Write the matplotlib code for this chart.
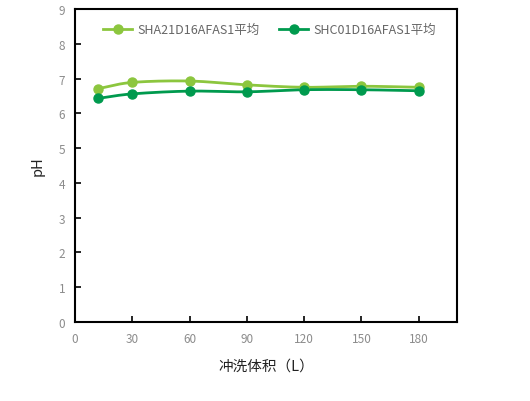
import numpy as np
import matplotlib
matplotlib.use("Agg")
import matplotlib.pyplot as plt

plt.rcParams['font.family'] = ['Noto Sans CJK SC', 'DejaVu Sans']

volume = [12, 30, 60, 90, 120, 150, 180]
sha = [6.71, 6.89, 6.93, 6.82, 6.75, 6.78, 6.75]
shc = [6.43, 6.56, 6.64, 6.62, 6.68, 6.68, 6.65]
series_names = ["SHA21D16AFAS1平均", "SHC01D16AFAS1平均"]
xticks = [0, 30, 60, 90, 120, 150, 180]
yticks = list(range(0, 10))

def smooth(x, y, n=30):
    x = np.asarray(x, float); y = np.asarray(y, float)
    px = np.concatenate([[2*x[0]-x[1]], x, [2*x[-1]-x[-2]]])
    py = np.concatenate([[2*y[0]-y[1]], y, [2*y[-1]-y[-2]]])
    xs, ys = [], []
    for i in range(1, len(px)-2):
        t = np.linspace(0, 1, n)
        for P, out in ((px, xs), (py, ys)):
            p0, p1, p2, p3 = P[i-1], P[i], P[i+1], P[i+2]
            out.extend(0.5*((2*p1) + (-p0+p2)*t + (2*p0-5*p1+4*p2-p3)*t**2 + (-p0+3*p1-3*p2+p3)*t**3))
    return np.array(xs), np.array(ys)

fig = plt.figure(figsize=(5.3, 4.02), dpi=100)
ax = fig.add_axes([0.1415, 0.1965, 0.7205, 0.7785])

colors = ["#8cc63e", "#009a4e"]
for vals, name, c in zip([sha, shc], series_names, colors):
    sx, sy = smooth(volume, vals)
    ax.plot(sx, sy, color=c, lw=2, zorder=2)
    ax.plot(volume, vals, 'o', color=c, ms=6.5, zorder=3)
    ax.plot([], [], '-o', color=c, lw=2, ms=6.5, label=name)

ax.set_xlim(0, 200)
ax.set_ylim(0, 9)
ax.set_xticks(xticks)
ax.set_yticks(yticks)
ax.tick_params(direction='in', length=4, width=1.2, colors='black', labelcolor='#8c8c8c', labelsize=8.5, pad=7)
for s in ax.spines.values():
    s.set_linewidth(1.5)
    s.set_color('black')
ax.set_xlabel("冲洗体积（L）", fontsize=10.5, color='#222222', labelpad=10)
ax.set_ylabel("pH", fontsize=10.5, color='#222222', labelpad=10)
leg = ax.legend(loc='upper left', ncol=2, frameon=False, fontsize=9, handlelength=2.3,
                handletextpad=0.4, columnspacing=1.6, bbox_to_anchor=(0.045, 0.99),
                labelcolor='#666666')

fig.savefig("out.png", dpi=100)
